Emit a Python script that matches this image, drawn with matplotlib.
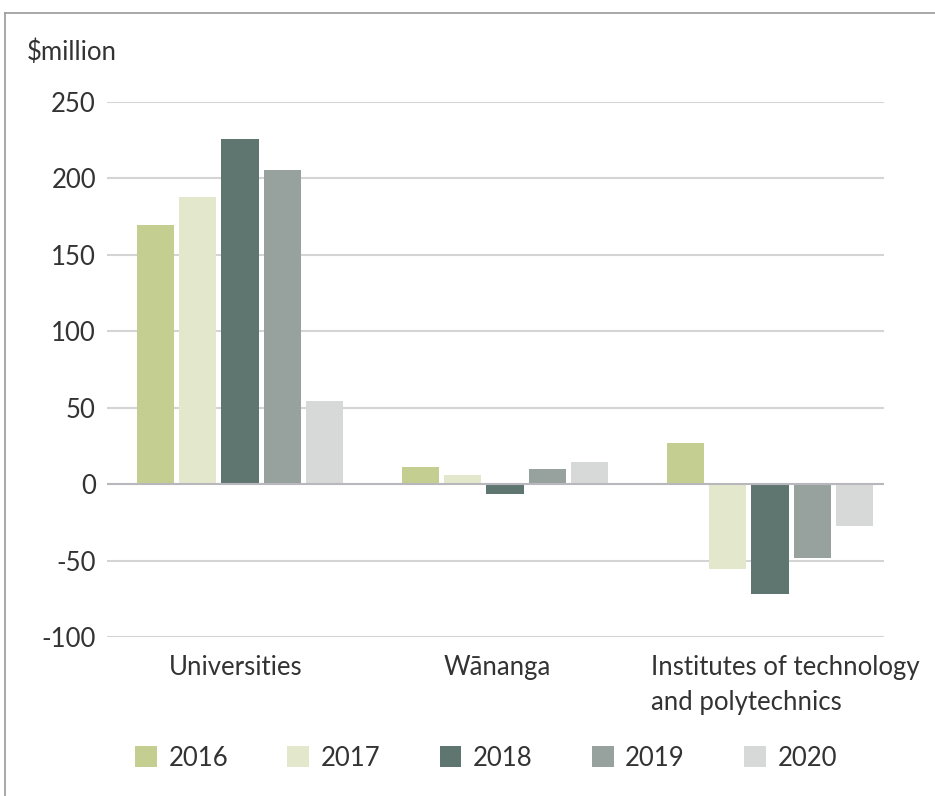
import matplotlib
matplotlib.use("Agg")
import matplotlib.pyplot as plt
from matplotlib.lines import Line2D
from matplotlib.patches import Patch
import numpy as np

categories = ["Universities", "Wānanga", "Institutes of technology\nand polytechnics"]
years = ["2016", "2017", "2018", "2019", "2020"]
values = {
    "2016": [169.5, 11.0, 26.8],
    "2017": [187.8, 6.0, -55.4],
    "2018": [225.8, -6.3, -71.8],
    "2019": [205.5, 9.8, -48.2],
    "2020": [54.3, 14.4, -27.3],
}
colors = ["#c4ce90", "#e3e8cc", "#5f7670", "#97a19d", "#d7d9d8"]
yticks = [-100, -50, 0, 50, 100, 150, 200, 250]

plt.rcParams["font.family"] = ["Lato", "DejaVu Sans"]
txt = "#333333"
fs = 18.5

fig = plt.figure(figsize=(9.35, 7.96), dpi=100)
ax = fig.add_axes([107/935, 1-637/796, (884-107)/935, (637-102)/796])

x = np.arange(len(categories))
width = 0.14
step = 0.16
for i, (yr, c) in enumerate(zip(years, colors)):
    ax.bar(x + (i - 2) * step, values[yr], width=width, color=c, zorder=3, label=yr)

ax.set_ylim(-100, 250)
ax.set_xlim(-0.502, 2.43)
ax.set_yticks(yticks)
ax.set_yticklabels([str(v) for v in yticks], fontsize=fs, color=txt)
ax.tick_params(axis="y", length=0, pad=8)
ax.tick_params(axis="x", length=0)
ax.set_xticks([])
for v in yticks:
    ax.axhline(v, color="#b8b8bc" if v == 0 else "#d4d4d4", lw=1.5, zorder=1 if v != 0 else 4)
for s in ax.spines.values():
    s.set_visible(False)

# category labels
ax.text(x[0] - 0.015, -112, categories[0], ha="center", va="top", fontsize=fs, color=txt)
ax.text(x[1] - 0.03, -112, categories[1], ha="center", va="top", fontsize=fs, color=txt)
ax.text(x[2] - 0.45, -112, categories[2], ha="left", va="top", fontsize=fs, color=txt, linespacing=1.5)

fig.text(27/935, 1-52/796, "$million", ha="left", va="center", fontsize=fs, color=txt)

handles = [Patch(facecolor=c, edgecolor="none") for c in colors]
fig.legend(handles, years, loc="center left", bbox_to_anchor=(112/935, 1-758/796), ncol=5,
           frameon=False, fontsize=fs, handlelength=0.85, handleheight=0.85,
           handletextpad=0.45, columnspacing=2.3, labelcolor=txt)

# frame lines (top and left)
fig.add_artist(Line2D([5/935, 1], [1-13/796, 1-13/796], color="#9a9a9a", lw=1.2, transform=fig.transFigure))
fig.add_artist(Line2D([5/935, 5/935], [0, 1-13/796], color="#9a9a9a", lw=1.2, transform=fig.transFigure))

fig.savefig("out.png", dpi=100)
